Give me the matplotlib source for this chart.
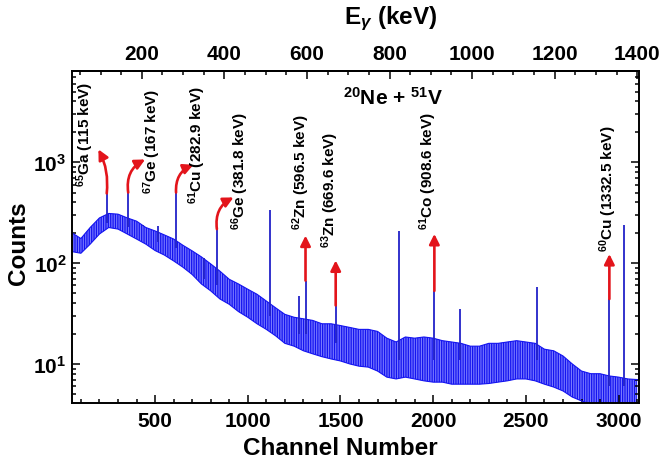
import numpy as np
import matplotlib
matplotlib.use("Agg")
import matplotlib.pyplot as plt
from matplotlib.ticker import MultipleLocator, FixedLocator, NullFormatter, LogLocator

plt.rcParams.update({
    "font.family": ["Liberation Sans", "DejaVu Sans"],
    "font.weight": "bold",
    "mathtext.fontset": "custom",
    "mathtext.rm": "Liberation Sans:bold",
    "mathtext.it": "Liberation Sans:italic:bold",
    "mathtext.bf": "Liberation Sans:bold",
    "mathtext.sf": "Liberation Sans:bold",
    "axes.linewidth": 1.4,
    "hatch.linewidth": 0.9,
})

# detector energy calibration: E = gain * channel + offset (keV)
gain_kev = 0.4491
offset_kev = 7.57

# continuum: lower / upper envelope of the counts per channel window
channels = [50, 100, 150, 200, 250, 300, 350, 400, 450, 500, 550, 600, 650, 700,
            750, 800, 850, 900, 950, 1000, 1050, 1100, 1150, 1200, 1250, 1300,
            1350, 1400, 1450, 1500, 1550, 1600, 1650, 1700, 1750, 1800, 1850,
            1900, 1950, 2000, 2050, 2100, 2150, 2200, 2250, 2300, 2350, 2400,
            2450, 2500, 2550, 2600, 2650, 2700, 2750, 2800, 2850, 2900, 2950,
            3000, 3050, 3100]
upper = [200, 175, 225, 280, 310, 305, 280, 260, 225, 208, 190, 173, 150, 132,
         115, 98, 83, 69, 62, 55, 49, 42, 36, 31, 29, 28, 27, 25, 25, 24, 23,
         22, 22, 21, 18, 16.5, 18.5, 18, 18.5, 18, 17, 16.5, 16, 15, 15, 16,
         16, 16.5, 17, 16.5, 16, 14, 13.5, 12, 10, 8.5, 8, 8, 7.6, 7.4, 7.1, 7.0]
lower = [130, 125, 154, 194, 225, 217, 194, 173, 154, 133, 120, 105, 91, 77,
         62, 53, 44, 39, 33, 29, 25, 22, 19, 16, 15, 13.5, 12.6, 11.8, 11.2,
         10.7, 10, 9.5, 9.3, 8.5, 7.4, 7.1, 7.4, 7.1, 6.8, 6.6, 6.6, 6.3, 6.3,
         6.3, 6.3, 6.4, 6.6, 6.8, 7.1, 7.1, 6.8, 6.3, 5.9, 5.4, 4.7, 4.3, 4.0,
         4.0, 4.0, 4.0, 3.9, 3.9]

# unassigned photopeaks (channel, peak counts, continuum under the peak)
other_ch = [433, 514, 764, 1121, 1278, 1818, 2145, 2562, 3031]
other_top = [235, 233, 112, 337, 47, 210, 35, 58, 238]
other_base = [240, 160, 70, 30, 20, 11, 11, 11, 6]

# assigned gamma lines
line_mass = ["65", "67", "61", "66", "62", "63", "61", "60"]
line_elem = ["Ga", "Ge", "Cu", "Ge", "Zn", "Zn", "Co", "Cu"]
line_energy = [115, 167, 282.9, 381.8, 596.5, 669.6, 908.6, 1332.5]
line_top = [490, 500, 500, 217, 67, 38, 53, 44]
line_base = [250, 230, 140, 60, 20, 16, 11, 6]

# annotation layout (offset points): arrow head, arrow bend, label
arrow_dx = [-6, 12.2, 12.5, 12, 0, 0, 0, 0]
arrow_dy = [31.7, 23.8, 20, 22.8, 32.4, 32.4, 41, 32.4]
arrow_rad = [-0.15, 0.35, 0.35, 0.35, 0, 0, 0, 0]
label_dx = [-15.6, 17.3, 14.9, 16.6, -2.9, -4.1, -4.1, -0.9]
label_dy = [5, 0, -7.2, 0, 37.2, 41.8, 44.4, 34.6]

blue = "#1414f0"
band_face = "#7a7aff"
peak_blue = "#2222c8"
red = "#e3141b"


def ch_to_kev(ch):
    return gain_kev * np.asarray(ch, dtype=float) + offset_kev


def kev_to_ch(e):
    return (np.asarray(e, dtype=float) - offset_kev) / gain_kev


fig = plt.figure(figsize=(6.65, 4.64), dpi=100)
ax = fig.add_axes([0.1083, 0.1293, 0.8526, 0.7155])

ax.fill_between(channels, lower, upper, facecolor=band_face, edgecolor=blue,
                hatch="|||||||", lw=0)
ax.plot(channels, upper, color=blue, lw=0.8)
ax.plot(channels, lower, color=blue, lw=0.8)

ax.vlines(other_ch, other_base, other_top, color=peak_blue, lw=1.3)
line_ch = kev_to_ch(line_energy)
ax.vlines(line_ch, line_base, line_top, color=peak_blue, lw=1.3)

for i, ch in enumerate(line_ch):
    ax.annotate("", xy=(ch, line_top[i]), xycoords="data",
                xytext=(arrow_dx[i], arrow_dy[i]), textcoords="offset points",
                arrowprops=dict(arrowstyle="<|-,head_length=0.6,head_width=0.3",
                                color=red, lw=1.9, shrinkA=0, shrinkB=0,
                                connectionstyle=f"arc3,rad={arrow_rad[i]}"))
    label = rf"$^{{{line_mass[i]}}}${line_elem[i]} ({line_energy[i]:g} keV)"
    ax.annotate(label, xy=(ch, line_top[i]), xycoords="data",
                xytext=(label_dx[i], label_dy[i]), textcoords="offset points",
                rotation=90, ha="center", va="bottom", fontsize=11,
                fontweight="bold")

ax.text(0.566, 0.9217, r"$^{20}$Ne + $^{51}$V", transform=ax.transAxes,
        ha="center", va="center", fontsize=15, fontweight="bold")

ax.set_yscale("log")
ax.set_xlim(52, 3110)
ax.set_ylim(4.1, 8000)

ax.xaxis.set_major_locator(MultipleLocator(500))
ax.xaxis.set_minor_locator(MultipleLocator(100))
ax.yaxis.set_major_locator(LogLocator(base=10, numticks=10))
ax.yaxis.set_minor_locator(LogLocator(base=10, subs=np.arange(2, 10), numticks=20))
ax.yaxis.set_minor_formatter(NullFormatter())

ax.tick_params(which="both", direction="in", width=1.1, labelsize=15,
               top=False, right=True, left=True, bottom=True)
ax.tick_params(which="major", length=6)
ax.tick_params(which="minor", length=3.2)
ax.tick_params(axis="x", pad=6)
ax.tick_params(axis="y", pad=4)
for lab in ax.get_xticklabels() + ax.get_yticklabels():
    lab.set_fontweight("bold")

ax.set_xlabel("Channel Number", fontsize=17.5, fontweight="bold")
ax.xaxis.set_label_coords(340 / 665, 1 - 449 / 464, transform=fig.transFigure)
ax.xaxis.label.set_va("center")
ax.set_ylabel("Counts", fontsize=17.5, fontweight="bold")
ax.yaxis.set_label_coords(18 / 665, 1 - 243 / 464, transform=fig.transFigure)
ax.yaxis.label.set_va("center")

top = ax.secondary_xaxis("top", functions=(ch_to_kev, kev_to_ch))
top.xaxis.set_major_locator(FixedLocator([200, 400, 600, 800, 1000, 1200, 1400]))
top.xaxis.set_minor_locator(MultipleLocator(50))
top.tick_params(which="both", direction="in", width=1.1, labelsize=15, pad=5.5)
top.tick_params(which="major", length=6)
top.tick_params(which="minor", length=3.2)
for lab in top.xaxis.get_ticklabels():
    lab.set_fontweight("bold")
top.set_xlabel(r"E$_{\gamma}$ (keV)", fontsize=17.5, fontweight="bold")
top.xaxis.set_label_coords(391 / 665, 1 - 19 / 464, transform=fig.transFigure)
top.xaxis.label.set_va("center")

fig.savefig("out.png", dpi=100)
